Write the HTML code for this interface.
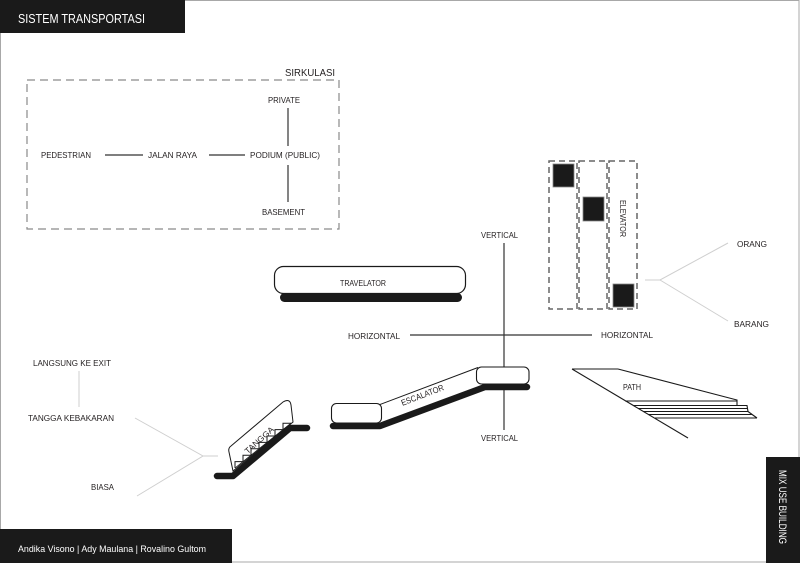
<!DOCTYPE html>
<html><head><meta charset="utf-8"><style>
html,body{margin:0;padding:0;background:#fff;}
svg{display:block;}
text{font-family:"Liberation Sans",sans-serif;fill:#231f20;}
</style></head><body>
<svg width="800" height="563" viewBox="0 0 800 563" xmlns="http://www.w3.org/2000/svg">
<rect x="0.5" y="0.5" width="798.5" height="561.5" fill="#fff" stroke="#a8a8a8" stroke-width="1"/>
<!-- header -->
<rect x="0" y="0" width="185" height="33" fill="#1a1a1a"/>
<text x="18" y="23" font-size="12.5" style="fill:#fff" textLength="127" lengthAdjust="spacingAndGlyphs">SISTEM TRANSPORTASI</text>
<!-- footer -->
<rect x="0" y="529" width="232" height="34" fill="#1a1a1a"/>
<text x="18" y="552" font-size="9.5" style="fill:#fff" textLength="188" lengthAdjust="spacingAndGlyphs">Andika Visono | Ady Maulana | Rovalino Gultom</text>
<!-- right box -->
<rect x="766" y="457" width="34" height="106" fill="#1a1a1a"/>
<text transform="translate(779,470) rotate(90)" x="0" y="0" font-size="11" style="fill:#fff" textLength="74" lengthAdjust="spacingAndGlyphs">MIX USE BUILDING</text>

<!-- SIRKULASI -->
<rect x="27" y="80" width="312" height="149" fill="none" stroke="#8a8a8a" stroke-width="1.2" stroke-dasharray="8,5"/>
<text x="285" y="76" font-size="10" textLength="50" lengthAdjust="spacingAndGlyphs">SIRKULASI</text>
<text x="268" y="103" font-size="8.5" textLength="32" lengthAdjust="spacingAndGlyphs">PRIVATE</text>
<text x="41" y="158" font-size="8.5" textLength="50" lengthAdjust="spacingAndGlyphs">PEDESTRIAN</text>
<text x="148" y="158" font-size="8.5" textLength="49" lengthAdjust="spacingAndGlyphs">JALAN RAYA</text>
<text x="250" y="158" font-size="8.5" textLength="70" lengthAdjust="spacingAndGlyphs">PODIUM (PUBLIC)</text>
<text x="262" y="215" font-size="8.5" textLength="43" lengthAdjust="spacingAndGlyphs">BASEMENT</text>
<g stroke="#333" stroke-width="1.2">
<line x1="105" y1="155" x2="143" y2="155"/>
<line x1="209" y1="155" x2="245" y2="155"/>
<line x1="288" y1="108" x2="288" y2="146"/>
<line x1="288" y1="165" x2="288" y2="202"/>
</g>

<!-- main cross -->
<g stroke="#333" stroke-width="1.2">
<line x1="410" y1="335" x2="592" y2="335"/>
<line x1="504" y1="243" x2="504" y2="430"/>
</g>
<text x="481" y="238" font-size="8.5" textLength="37" lengthAdjust="spacingAndGlyphs">VERTICAL</text>
<text x="481" y="441" font-size="8.5" textLength="37" lengthAdjust="spacingAndGlyphs">VERTICAL</text>
<text x="348" y="339" font-size="8.5" textLength="52" lengthAdjust="spacingAndGlyphs">HORIZONTAL</text>
<text x="601" y="338" font-size="8.5" textLength="52" lengthAdjust="spacingAndGlyphs">HORIZONTAL</text>

<!-- travelator -->
<rect x="280" y="293" width="182" height="9" rx="4.5" fill="#1a1a1a"/>
<rect x="274.5" y="266.5" width="191" height="27" rx="9" fill="#fff" stroke="#1a1a1a" stroke-width="1.2"/>
<text x="340" y="286" font-size="8.5" textLength="46" lengthAdjust="spacingAndGlyphs">TRAVELATOR</text>

<!-- escalator -->
<polygon points="378,405 478,367 486,387 380,427" fill="#fff"/>
<line x1="380" y1="404.5" x2="478" y2="367.5" stroke="#1a1a1a" stroke-width="1"/>
<path d="M333,426 L380,426 L485,387 L527,387" fill="none" stroke="#1a1a1a" stroke-width="6.5" stroke-linecap="round" stroke-linejoin="round"/>
<rect x="331.5" y="403.5" width="50" height="19.5" rx="5" fill="#fff" stroke="#1a1a1a" stroke-width="1.1"/>
<rect x="476.5" y="367" width="52.5" height="17" rx="5" fill="#fff" stroke="#1a1a1a" stroke-width="1.1"/>
<text transform="translate(423,398) rotate(-21)" x="-22" y="0" font-size="8.5" textLength="45" lengthAdjust="spacingAndGlyphs">ESCALATOR</text>

<!-- elevator -->
<g fill="none" stroke="#666" stroke-width="1.5" stroke-dasharray="6,4">
<rect x="549" y="161" width="28" height="148"/>
<rect x="579" y="161" width="28" height="148"/>
<rect x="609" y="161" width="28" height="148"/>
</g>
<g fill="#1a1a1a" stroke="#888" stroke-width="0.8">
<rect x="553" y="164" width="21" height="23"/>
<rect x="583" y="197" width="21" height="24"/>
<rect x="613" y="284" width="21" height="23"/>
</g>
<text transform="translate(620,200) rotate(90)" x="0" y="0" font-size="8" textLength="37" lengthAdjust="spacingAndGlyphs">ELEVATOR</text>
<g stroke="#cfcfcf" stroke-width="1" fill="none">
<polyline points="645,280 660,280 728,243"/>
<line x1="660" y1="280" x2="728" y2="321"/>
</g>
<text x="737" y="247" font-size="8.5" textLength="30" lengthAdjust="spacingAndGlyphs">ORANG</text>
<text x="734" y="327" font-size="8.5" textLength="35" lengthAdjust="spacingAndGlyphs">BARANG</text>

<!-- path -->
<g stroke="#1a1a1a" stroke-width="1.1" fill="none">
<line x1="572" y1="369" x2="618" y2="369"/>
<line x1="572" y1="369" x2="688" y2="438"/>
<polyline points="618,369 737,400 737,405.5 747,405.5 748,411.5 757,418"/>
<line x1="625" y1="401" x2="737" y2="401"/>
<line x1="633" y1="405.5" x2="737" y2="405.5"/>
<line x1="638" y1="408.5" x2="747" y2="408.5"/>
<line x1="643" y1="411.5" x2="748" y2="411.5"/>
<line x1="648" y1="414.5" x2="752" y2="414.5"/>
<line x1="655" y1="418" x2="757" y2="418"/>
</g>
<text x="623" y="390" font-size="8.5" textLength="18" lengthAdjust="spacingAndGlyphs">PATH</text>

<!-- tangga -->
<g stroke="#cfcfcf" stroke-width="1" fill="none">
<line x1="79" y1="371" x2="79" y2="407"/>
<polyline points="135,418 203,456 137,496"/>
<line x1="203" y1="456" x2="218" y2="456"/>
</g>
<text x="33" y="366" font-size="8.5" textLength="78" lengthAdjust="spacingAndGlyphs">LANGSUNG KE EXIT</text>
<text x="28" y="421" font-size="8.5" textLength="86" lengthAdjust="spacingAndGlyphs">TANGGA KEBAKARAN</text>
<text x="91" y="490" font-size="8.5" textLength="23" lengthAdjust="spacingAndGlyphs">BIASA</text>
<path d="M233,471 L229,452 Q228,448 231,446 L283,402 Q290,398 291,405 L293,422 Z" fill="#fff" stroke="#1a1a1a" stroke-width="1"/>
<polyline points="235,468 235,461.6 243,461.6 243,455.2 251,455.2 251,448.8 259,448.8 259,442.4 267,442.4 267,436 275,436 275,429.6 283,429.6 283,423.2 291,423.2" fill="none" stroke="#1a1a1a" stroke-width="1"/>
<polyline points="235,468 243,461.6 251,455.2 259,448.8 267,442.4 275,436 283,429.6 291,423.2" fill="none" stroke="#1a1a1a" stroke-width="0.8"/>
<path d="M217,476 L233,476 L290,428 L307,428" fill="none" stroke="#1a1a1a" stroke-width="6.5" stroke-linecap="round" stroke-linejoin="round"/>
<text transform="translate(259,440) rotate(-42)" x="-18" y="3" font-size="8" textLength="36" lengthAdjust="spacingAndGlyphs">TANGGA</text>
</svg>
</body></html>
